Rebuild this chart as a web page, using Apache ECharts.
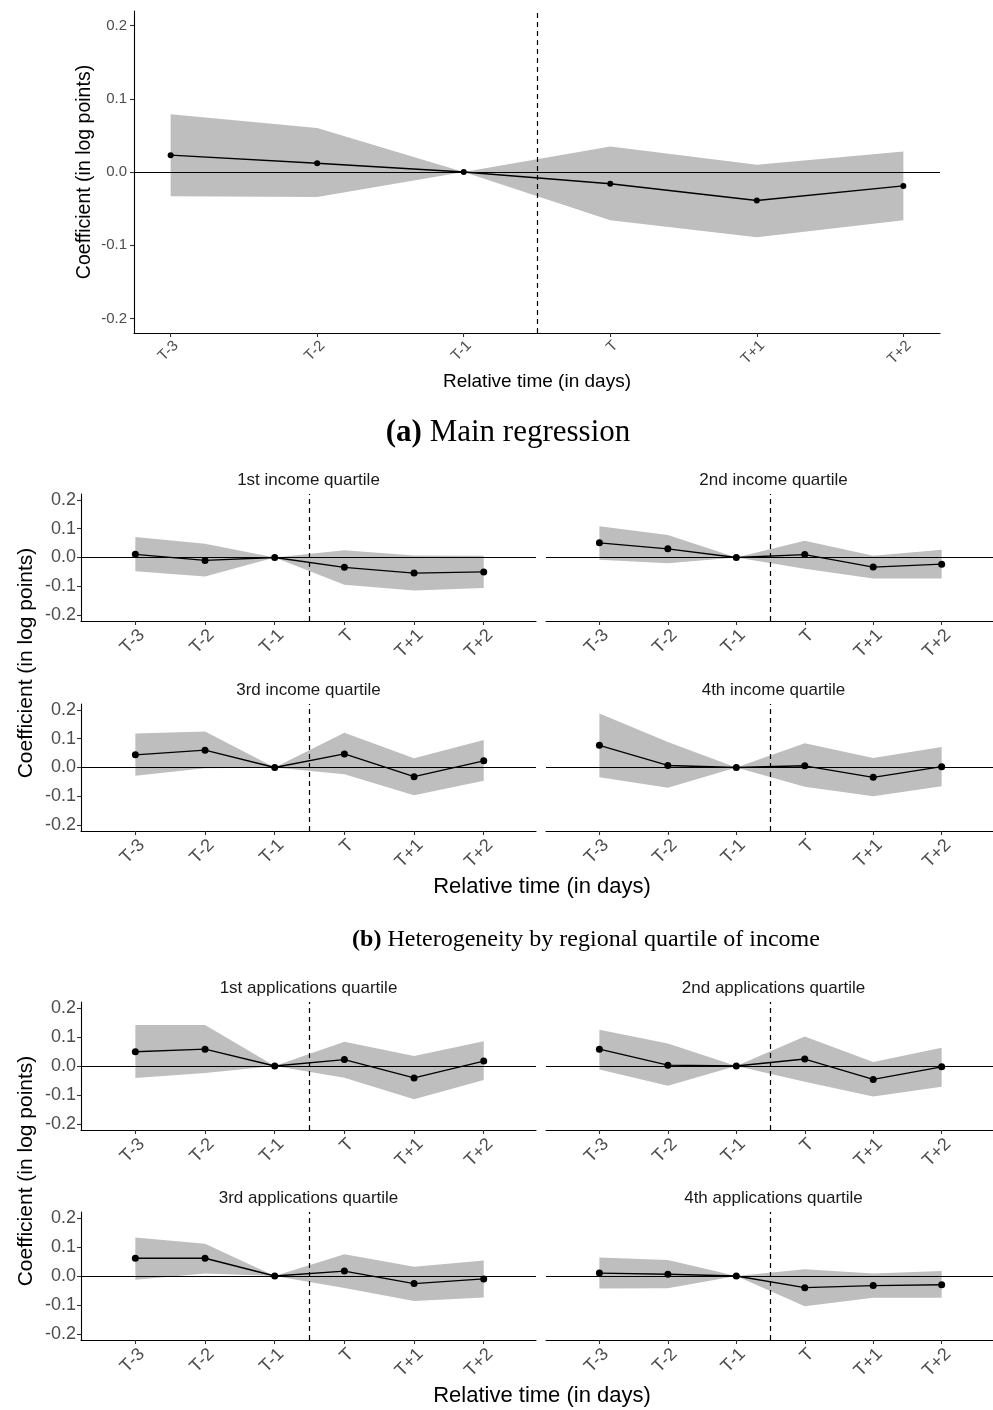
<!DOCTYPE html>
<html>
<head>
<meta charset="utf-8">
<script src="https://cdn.jsdelivr.net/npm/echarts@6/dist/echarts.min.js"></script>
<style>
html, body { margin: 0; padding: 0; background: #ffffff; }
#chart { width: 993px; height: 1410px; }
</style>
</head>
<body>
<div id="chart"></div>
<script>
// Event-study coefficients relative to T-1, with 95% confidence bands
const days = ['T-3', 'T-2', 'T-1', 'T', 'T+1', 'T+2'];
const dayPos = [-3, -2, -1, 0, 1, 2];
const yTicks = [-0.2, -0.1, 0, 0.1, 0.2];

// (a) Main regression
const mainCoef = [0.023, 0.012, 0, -0.016, -0.039, -0.019];
const mainLow  = [-0.033, -0.034, 0, -0.066, -0.089, -0.066];
const mainHigh = [0.079, 0.060, 0, 0.035, 0.010, 0.028];

// (b) By regional income quartile
const inc1Coef = [0.011, -0.010, 0, -0.034, -0.054, -0.050];
const inc1Low  = [-0.048, -0.066, 0, -0.094, -0.114, -0.106];
const inc1High = [0.071, 0.048, 0, 0.025, 0.007, 0.006];

const inc2Coef = [0.051, 0.030, 0, 0.010, -0.033, -0.023];
const inc2Low  = [-0.008, -0.020, 0, -0.039, -0.073, -0.073];
const inc2High = [0.108, 0.078, 0, 0.058, 0.006, 0.027];

const inc3Coef = [0.044, 0.060, 0, 0.047, -0.032, 0.023];
const inc3Low  = [-0.029, -0.003, 0, -0.023, -0.096, -0.046];
const inc3High = [0.118, 0.125, 0, 0.120, 0.032, 0.095];

const inc4Coef = [0.077, 0.007, 0, 0.006, -0.034, 0.003];
const inc4Low  = [-0.034, -0.070, 0, -0.067, -0.100, -0.065];
const inc4High = [0.187, 0.088, 0, 0.084, 0.033, 0.071];

// (c) By applications quartile
const app1Coef = [0.049, 0.058, 0, 0.022, -0.041, 0.017];
const app1Low  = [-0.041, -0.024, 0, -0.040, -0.114, -0.048];
const app1High = [0.141, 0.141, 0, 0.083, 0.034, 0.085];

const app2Coef = [0.058, 0.003, 0, 0.024, -0.046, -0.003];
const app2Low  = [-0.012, -0.068, 0, -0.054, -0.105, -0.071];
const app2High = [0.125, 0.077, 0, 0.101, 0.014, 0.063];

const app3Coef = [0.061, 0.061, 0, 0.017, -0.026, -0.010];
const app3Low  = [-0.013, 0.009, 0, -0.041, -0.086, -0.074];
const app3High = [0.132, 0.111, 0, 0.075, 0.032, 0.053];

const app4Coef = [0.010, 0.006, 0, -0.040, -0.033, -0.030];
const app4Low  = [-0.043, -0.042, 0, -0.104, -0.075, -0.075];
const app4High = [0.064, 0.055, 0, 0.023, 0.009, 0.017];

const incTitles = ['1st income quartile', '2nd income quartile', '3rd income quartile', '4th income quartile'];
const appTitles = ['1st applications quartile', '2nd applications quartile', '3rd applications quartile', '4th applications quartile'];

const SANS = '"Liberation Sans", Arial, sans-serif';
const SERIF = '"Liberation Serif", "DejaVu Serif", serif';

// Panel layout: grid box, x range, whether the left axis is drawn, font sizes
const panels = [
  { coef: mainCoef, low: mainLow, high: mainHigh, title: null,
    box: { left: 134, top: 11, width: 806, height: 322 }, xr: [-3.25, 2.25], yAxisShown: true,
    tick: 15, dot: 6, lw: 1.4, xMargin: 5, yMargin: 7 },
  { coef: inc1Coef, low: inc1Low, high: inc1High, title: incTitles[0],
    box: { left: 81, top: 494, width: 455, height: 127 }, xr: [-3.78, 2.75], yAxisShown: true,
    tick: 18, dot: 7, lw: 1.3, xMargin: 5, yMargin: 5 },
  { coef: inc2Coef, low: inc2Low, high: inc2High, title: incTitles[1],
    box: { left: 546, top: 494, width: 455, height: 127 }, xr: [-3.78, 2.75], yAxisShown: false,
    tick: 18, dot: 7, lw: 1.3, xMargin: 5, yMargin: 5 },
  { coef: inc3Coef, low: inc3Low, high: inc3High, title: incTitles[2],
    box: { left: 81, top: 704, width: 455, height: 127 }, xr: [-3.78, 2.75], yAxisShown: true,
    tick: 18, dot: 7, lw: 1.3, xMargin: 5, yMargin: 5 },
  { coef: inc4Coef, low: inc4Low, high: inc4High, title: incTitles[3],
    box: { left: 546, top: 704, width: 455, height: 127 }, xr: [-3.78, 2.75], yAxisShown: false,
    tick: 18, dot: 7, lw: 1.3, xMargin: 5, yMargin: 5 },
  { coef: app1Coef, low: app1Low, high: app1High, title: appTitles[0],
    box: { left: 81, top: 1002, width: 455, height: 128 }, xr: [-3.78, 2.75], yAxisShown: true,
    tick: 18, dot: 7, lw: 1.3, xMargin: 5, yMargin: 5 },
  { coef: app2Coef, low: app2Low, high: app2High, title: appTitles[1],
    box: { left: 546, top: 1002, width: 455, height: 128 }, xr: [-3.78, 2.75], yAxisShown: false,
    tick: 18, dot: 7, lw: 1.3, xMargin: 5, yMargin: 5 },
  { coef: app3Coef, low: app3Low, high: app3High, title: appTitles[2],
    box: { left: 81, top: 1212, width: 455, height: 128 }, xr: [-3.78, 2.75], yAxisShown: true,
    tick: 18, dot: 7, lw: 1.3, xMargin: 5, yMargin: 5 },
  { coef: app4Coef, low: app4Low, high: app4High, title: appTitles[3],
    box: { left: 546, top: 1212, width: 455, height: 128 }, xr: [-3.78, 2.75], yAxisShown: false,
    tick: 18, dot: 7, lw: 1.3, xMargin: 5, yMargin: 5 }
];

const grid = [], xAxis = [], yAxis = [], series = [], graphic = [];

panels.forEach((p, i) => {
  grid.push(Object.assign({ containLabel: false }, p.box));

  xAxis.push({
    type: 'value', gridIndex: i, min: p.xr[0], max: p.xr[1],
    splitLine: { show: false },
    axisLine: { show: true, onZero: false, lineStyle: { color: '#000000', width: 1.1 } },
    axisTick: { show: true, customValues: dayPos, length: 4, lineStyle: { color: '#333333', width: 1.1 } },
    axisLabel: {
      show: true, customValues: dayPos, rotate: 45, margin: p.xMargin,
      align: 'right', verticalAlign: 'top',
      color: '#4d4d4d', fontSize: p.tick, fontFamily: SANS,
      formatter: v => days[dayPos.indexOf(Math.round(v))]
    }
  });

  yAxis.push({
    type: 'value', gridIndex: i, min: -0.22, max: 0.22,
    splitLine: { show: false },
    axisLine: { show: p.yAxisShown, onZero: false, lineStyle: { color: '#000000', width: 1.1 } },
    axisTick: { show: p.yAxisShown, customValues: yTicks, length: 4, lineStyle: { color: '#333333', width: 1.1 } },
    axisLabel: {
      show: p.yAxisShown, customValues: yTicks, margin: p.yMargin,
      color: '#4d4d4d', fontSize: p.tick, fontFamily: SANS,
      formatter: v => v.toFixed(1)
    }
  });

  // confidence band as one polygon through the axis scales
  const bandRows = dayPos.map((x, k) => [x, p.low[k], p.high[k]]);
  series.push({
    type: 'custom', xAxisIndex: i, yAxisIndex: i, z: 1, silent: true, clip: true,
    data: bandRows,
    renderItem: (params, api) => {
      if (params.dataIndex !== 0) return null;
      const upper = bandRows.map(r => api.coord([r[0], r[2]]));
      const lower = bandRows.map(r => api.coord([r[0], r[1]])).reverse();
      return {
        type: 'polygon',
        shape: { points: upper.concat(lower) },
        style: { fill: '#bebebe', stroke: null }
      };
    }
  });

  // coefficient path with reference lines at zero and at the event
  series.push({
    type: 'line', xAxisIndex: i, yAxisIndex: i, z: 3, silent: true,
    data: dayPos.map((x, k) => [x, p.coef[k]]),
    symbol: 'circle', symbolSize: p.dot, showSymbol: true,
    lineStyle: { color: '#000000', width: p.lw },
    itemStyle: { color: '#000000' },
    markLine: {
      silent: true, symbol: 'none', animation: false,
      label: { show: false },
      data: [
        { yAxis: 0, lineStyle: { color: '#000000', type: 'solid', width: 1.2 } },
        { xAxis: -0.5, lineStyle: { color: '#000000', type: [5, 4], width: 1.2 } }
      ]
    }
  });

  if (p.title) {
    graphic.push({
      type: 'text', x: p.box.left + p.box.width / 2, y: p.box.top - 14,
      style: { text: p.title, fontSize: 17, fontFamily: SANS, fill: '#1a1a1a', align: 'center', verticalAlign: 'middle' }
    });
  }
});

// axis titles
function axisTitle(text, x, y, size, vertical) {
  graphic.push({
    type: 'text', x: x, y: y, rotation: vertical ? Math.PI / 2 : 0,
    style: { text: text, fontSize: size, fontFamily: SANS, fill: '#000000', align: 'center', verticalAlign: 'middle' }
  });
}
axisTitle('Coefficient (in log points)', 85, 172, 19.5, true);
axisTitle('Relative time (in days)', 537, 382, 19, false);
axisTitle('Coefficient (in log points)', 26, 663, 21, true);
axisTitle('Relative time (in days)', 542, 887, 22, false);
axisTitle('Coefficient (in log points)', 26, 1171, 21, true);
axisTitle('Relative time (in days)', 542, 1396, 22, false);

// sub-figure captions
function caption(tag, text, x, y, size) {
  graphic.push({
    type: 'text', x: x, y: y,
    style: {
      text: '{b|' + tag + '} ' + text, fontSize: size, fontFamily: SERIF, fill: '#000000',
      align: 'center', verticalAlign: 'middle',
      rich: { b: { fontWeight: 'bold', fontSize: size, fontFamily: SERIF, fill: '#000000' } }
    }
  });
}
caption('(a)', 'Main regression', 508, 433, 31);
caption('(b)', 'Heterogeneity by regional quartile of income', 586, 940, 24);

const chart = echarts.init(document.getElementById('chart'), null, { renderer: 'canvas' });
chart.setOption({
  animation: false,
  backgroundColor: '#ffffff',
  grid: grid,
  xAxis: xAxis,
  yAxis: yAxis,
  series: series,
  graphic: graphic
});
</script>
</body>
</html>
